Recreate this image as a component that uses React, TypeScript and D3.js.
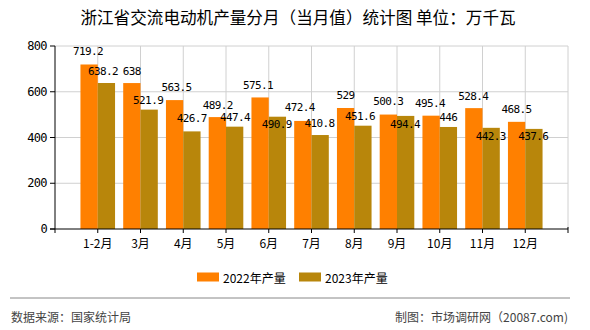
import React from "react";
import * as d3 from "d3";

const categories = ["1-2月", "3月", "4月", "5月", "6月", "7月", "8月", "9月", "10月", "11月", "12月"];
const values2022 = [719.2, 638, 563.5, 489.2, 575.1, 472.4, 529, 500.3, 495.4, 528.4, 468.5];
const values2023 = [638.2, 521.9, 426.7, 447.4, 490.9, 410.8, 451.6, 494.4, 446, 442.3, 437.6];
const seriesNames = ["2022年产量", "2023年产量"];
const yTicks = [0, 200, 400, 600, 800];

// label placement (offsets from bar centre / bar top, in px)
const labelDx2022 = [-1, 0, 2, 0.5, -2, -3, 0, 0, -1, -0.5, 0];
const labelDy2022 = [-12.8, -12, -12.3, -12, -12.4, -13.3, -12, -12.6, -12.4, -12, -12.8];
const labelDx2023 = [-3.4, -1, -0.2, 0.3, -0.7, -0.6, -2.9, -0.6, -0.1, -0.4, -0.6];
const labelDy2023 = [-12, -9.6, -12.4, -9, 7.6, -11.7, -9.4, 8.8, -9, 8.2, 8];

const W = 590;
const H = 330;
const left = 55;
const right = 568;
const top = 46;
const bottom = 229;
const colors = ["#FF8000", "#B8860B"];
const barW = 17.3;
const cjk = '"Noto Sans CJK SC", "Noto Sans", sans-serif';
const mono = '"DejaVu Sans Mono", "Liberation Mono", monospace';

export default function App() {
  const x = d3.scaleLinear().domain([0, categories.length + 1]).range([left, right]);
  const y = d3.scaleLinear().domain([0, 800]).range([bottom, top]);
  const fmt = (v: number) => String(v);

  return (
    <svg width={W} height={H} style={{ position: "absolute", left: 0, top: 0, background: "#fff" }}>
      <text x={298} y={17} textAnchor="middle" dominantBaseline="central" fontSize={16.6} fontFamily={cjk} fill="#000">
        浙江省交流电动机产量分月（当月值）统计图 单位：万千瓦
      </text>

      {/* grid */}
      {yTicks.filter((t) => t > 0).map((t) => (
        <line key={"gy" + t} x1={left} x2={right} y1={y(t)} y2={y(t)} stroke="#d0d0d0" strokeWidth={1} />
      ))}
      {categories.map((c, i) => (
        <line key={"gx" + c} x1={x(i + 1)} x2={x(i + 1)} y1={top} y2={bottom} stroke="#d0d0d0" strokeWidth={1} />
      ))}
      <line x1={right} x2={right} y1={top} y2={bottom} stroke="#d0d0d0" strokeWidth={1} />

      {/* bars */}
      {categories.map((c, i) => (
        <g key={"b" + c}>
          <rect x={x(i + 1) - barW} y={y(values2022[i])} width={barW} height={bottom - y(values2022[i])} fill={colors[0]} />
          <rect x={x(i + 1)} y={y(values2023[i])} width={barW} height={bottom - y(values2023[i])} fill={colors[1]} />
        </g>
      ))}

      {/* axes */}
      <line x1={left} x2={left} y1={top} y2={bottom + 4} stroke="#000" strokeWidth={1} />
      <line x1={left - 5} x2={right} y1={bottom} y2={bottom} stroke="#000" strokeWidth={1} />
      <line x1={right} x2={right} y1={bottom - 2} y2={bottom + 4} stroke="#000" strokeWidth={1} />
      {yTicks.map((t) => (
        <g key={"yt" + t}>
          <line x1={left - 5} x2={left} y1={y(t)} y2={y(t)} stroke="#000" />
          <text x={left - 8} y={y(t)} textAnchor="end" dominantBaseline="central" fontSize={12} fontFamily={mono} letterSpacing={-0.6} fill="#000">
            {t}
          </text>
        </g>
      ))}
      {categories.map((c, i) => (
        <g key={"xt" + c}>
          <line x1={x(i + 1)} x2={x(i + 1)} y1={bottom} y2={bottom + 4} stroke="#000" />
          <text x={x(i + 1)} y={242} textAnchor="middle" dominantBaseline="central" fontSize={12} fontFamily={cjk} fill="#000">
            {c}
          </text>
        </g>
      ))}

      {/* value labels */}
      {categories.map((c, i) => (
        <g key={"l" + c} fontSize={11} fontFamily={mono} letterSpacing={-0.6} fill="#000">
          <text x={x(i + 1) - barW / 2 + labelDx2022[i]} y={y(values2022[i]) + labelDy2022[i]} textAnchor="middle" dominantBaseline="central">
            {fmt(values2022[i])}
          </text>
          <text x={x(i + 1) + barW / 2 + labelDx2023[i]} y={y(values2023[i]) + labelDy2023[i]} textAnchor="middle" dominantBaseline="central">
            {fmt(values2023[i])}
          </text>
        </g>
      ))}

      {/* legend */}
      {seriesNames.map((s, k) => (
        <g key={s}>
          <rect x={197 + k * 102} y={272.5} width={22} height={9} fill={colors[k]} />
          <text x={223 + k * 102} y={277} dominantBaseline="central" fontSize={12} fontFamily={cjk} fill="#000">
            {s}
          </text>
        </g>
      ))}

      <line x1={10} x2={570} y1={298} y2={298} stroke="#888" strokeWidth={1} />
      <text x={11} y={316} dominantBaseline="central" fontSize={12} fontFamily={cjk} fill="#444">
        数据来源：国家统计局
      </text>
      <text x={568} y={316} textAnchor="end" dominantBaseline="central" fontSize={12} fontFamily={cjk} fill="#444">
        制图：市场调研网（20087.com)
      </text>
    </svg>
  );
}
